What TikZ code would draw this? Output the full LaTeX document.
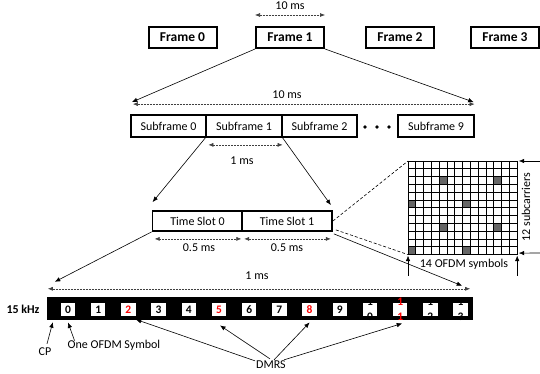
\documentclass[tikz,border=0pt]{standalone}
\usepackage{fontspec}
\setmainfont{Carlito}
\usetikzlibrary{arrows.meta,calc}

\begin{document}
\begin{tikzpicture} [
        x = 1pt, y = -1pt,
        inner sep = 1pt,
        font = \fontsize{12}{14}\selectfont,
        framebox/.style = { draw, line width = 2pt, minimum width = 68pt, minimum height = 21pt, font = \fontsize{13.5}{15}\selectfont\bfseries },
        subbox/.style = { draw, line width = 1.8pt, minimum width = 75.5pt, minimum height = 22pt },
        slotbox/.style = { draw, line width = 1.8pt, minimum width = 90pt, minimum height = 20pt },
        symbox/.style = { fill = white, minimum width = 14.5pt, minimum height = 13.5pt, inner sep = 0 },
        symnum/.style = { font = \fontsize{11.5}{14.5}\selectfont\bfseries, align = center, inner sep = 0 },
        span/.style = { black!75, line width = 0.6pt, dash pattern = on 2pt off 1pt, {Latex[length=5pt,width=4pt]}-{Latex[length=5pt,width=4pt]} },
        pointer/.style = { line width = 0.6pt, -{Latex[length=5.5pt,width=4.5pt]} }
        ]
        \useasboundingbox (0,0) rectangle (540,374);

        % frames
        \node [framebox] (frame0) at (182.5,37.5) {Frame 0};
        \node [framebox] (frame1) at (290,37.5) {Frame 1};
        \node [framebox] (frame2) at (400,37.5) {Frame 2};
        \node [framebox] (frame3) at (505,37.5) {Frame 3};
        \draw [span] ($(frame1.north west)+(0,-11)$) -- ($(frame1.north east)+(0,-11)$);
        \node (tenms) at (290,6) {10 ms};

        % subframes
        \node [subbox] (sub0) at (168.5,126) {Subframe {\large 0}};
        \node [subbox] (sub1) at (244,126) {Subframe 1};
        \node [subbox] (sub2) at (319.5,126) {Subframe 2};
        \node [subbox] (sub9) at (436,126) {Subframe 9};
        \foreach \x in {365,377,389}
            \fill (\x,127) circle (1.9);
        \draw [pointer] (frame1.south west) -- ($(sub0.north west)+(2,-12)$);
        \draw [pointer] (frame1.south east) -- ($(sub9.north east)+(-1,-12)$);
        \draw [span] ($(sub0.north west)+(3,-10)$) -- ($(sub9.north east)+(0,-10)$);
        \node (tenmsb) at (287,95) {10 ms};

        % time slots
        \node [slotbox] (slot0) at (197.5,221) {Time Slot 0};
        \node [slotbox] (slot1) at (287,221) {Time Slot 1};
        \draw [pointer] (sub1.south west) -- ($(slot0.north west)+(1,-8)$);
        \draw [pointer] (sub1.south east) -- ($(slot1.north east)+(-2,-5)$);
        \draw [span] ($(sub1.south west)+(3,7)$) -- ($(sub1.south east)+(0,7)$);
        \node (onems) at (242,161) {1 ms};
        \draw [span] ($(slot0.south west)+(3,7)$) -- ($(slot0.south east)+(-2,7)$);
        \draw [span] ($(slot1.south west)+(3,7)$) -- ($(slot1.south east)+(-2,7)$);
        \node (halfa) at (199,248) {0.5 ms};
        \node (halfb) at (287,248) {0.5 ms};

        % resource grid
        \coordinate (gridnw) at (408,161);
        \coordinate (gridne) at (517.2,161);
        \coordinate (gridsw) at (408,254.6);
        \coordinate (gridse) at (517.2,254.6);
        \foreach \c/\r in {4/2, 11/2, 0/5, 7/5, 4/8, 11/8, 0/11, 7/11}
            \fill [black!60] (408+7.8*\c,161+7.8*\r) rectangle ++(7.8,7.8);
        \foreach \c in {0,...,14}
            \draw [line width = 0.8pt] (408+7.8*\c,161) -- ++(0,93.6);
        \foreach \r in {0,...,12}
            \draw [line width = 0.8pt] (408,161+7.8*\r) -- ++(109.2,0);
        \draw [line width = 1.6pt] (408+7.8*7,161) -- ++(0,93.6);
        \node [rotate = 90] (nsub) at (526,207) {12 subcarriers};
        \node (nsym) at (464,264) {14 OFDM symbols};
        \draw [pointer] (540,161) -- ($(gridne)+(1.5,0)$);
        \draw [pointer] (540,253) -- ($(gridse)+(1.5,-1.5)$);
        \draw [pointer] ($(gridsw)+(0,21)$) -- ($(gridsw)+(0,1)$);
        \draw [pointer] ($(gridse)+(0,21)$) -- ($(gridse)+(0,1)$);

        % symbols bar
        \node [fill = black, minimum width = 426pt, minimum height = 23pt, inner sep = 0] (bar) at (260,308.5) {};
        \foreach \i in {0,...,13}
            \node [symbox] (sym\i) at (68+30.2*\i,309.5) {};
        \foreach \i/\t/\col in {0/0/black, 1/1/black, 2/2/red, 3/3/black, 4/4/black, 5/5/red, 6/6/black,
            7/7/black, 8/8/red, 9/9/black, 10/{1\\0}/black, 11/{1\\1}/red, 12/{1\\2}/black, 13/{1\\3}/black}
            \node [symnum, text = \col] at (sym\i) {\t};
        \node [font = \fontsize{12}{14}\selectfont\bfseries] (khz) at (23,309) {15 kHz};
        \draw [pointer] (slot0.south west) -- ($(bar.north west)+(8,-15)$);
        \draw [pointer] ($(slot1.south east)+(1,2)$) -- ($(bar.north east)+(-11,-11)$);
        \draw [densely dashed, line width = 0.6pt] (slot1.east) -- (gridnw);
        \draw [densely dashed, line width = 0.6pt] ($(slot1.south east)+(3,-2)$) -- (gridsw);
        \draw [span] ($(bar.north west)+(1,-8)$) -- ($(bar.north east)+(-3,-8)$);
        \node (onemsb) at (257,276) {1 ms};

        % labels below
        \node (cp) at (45,352) {CP};
        \draw [pointer] ($(cp.north)+(2,-3)$) -- ($(bar.south west)+(6,2)$);
        \node (ofdm) at (114,345) {One OFDM Symbol};
        \draw [pointer] ($(ofdm.north west)+(8,2)$) -- ($(sym0.south)+(0,6)$);
        \node (dmrs) at (271,365) {DMRS};
        \draw [pointer] ($(dmrs.north west)+(0,1)$) -- ($(sym2.south east)+(0,3)$);
        \draw [pointer] ($(dmrs.north)+(-1,-1)$) -- ($(sym5.south)+(1,9)$);
        \draw [pointer] ($(dmrs.north)+(3,0)$) -- ($(sym8.south)+(0,6)$);
        \draw [pointer] ($(dmrs.north east)+(-3,0)$) -- ($(sym11.south)+(2,7)$);
\end{tikzpicture}
\end{document}
